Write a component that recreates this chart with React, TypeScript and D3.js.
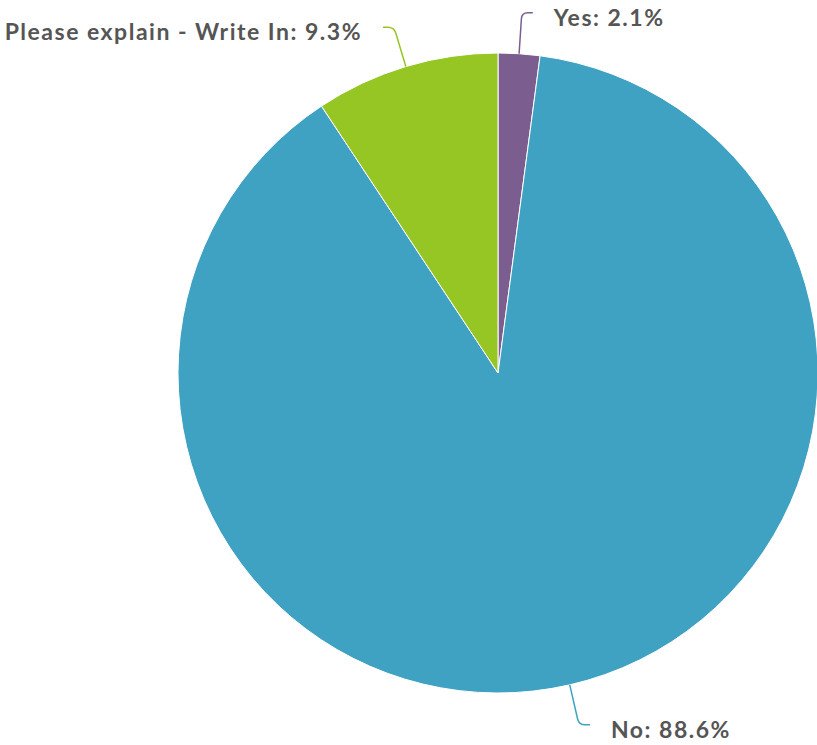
import React from "react";
import * as d3 from "d3";

const categories = ["Yes", "No", "Please explain - Write In"];
const values = [2.1, 88.6, 9.3];
const colors = ["#7b5e8f", "#40a2c2", "#95c624"];

const W = 817, H = 745;
const cx = 498, cy = 373, R = 320;

export default function App() {
  const pie = d3.pie<number>().sort(null).value((d) => d)(values);
  const arc = d3.arc<d3.PieArcDatum<number>>().innerRadius(0).outerRadius(R);
  return (
    <svg width={W} height={H} style={{ position: "absolute", left: 0, top: 0 }}>
      <g transform={`translate(${cx},${cy})`}>
        {pie.map((p, i) => (
          <path key={i} d={arc(p) || ""} fill={colors[i]} stroke="#fff" strokeWidth={1} strokeLinejoin="round" />
        ))}
        {pie.map((p, i) => {
          const a = (p.startAngle + p.endAngle) / 2;
          const s = Math.sin(a), c = -Math.cos(a);
          const x0 = R * s, y0 = R * c;
          const x1 = (R + 41) * s, y1 = (R + 41) * c;
          const dir = s >= 0 ? 1 : -1;
          const x2 = x1 + dir * 11;
          const rad = 6;
          const len = Math.hypot(x1 - x0, y1 - y0);
          const bx = x1 - ((x1 - x0) / len) * rad, by = y1 - ((y1 - y0) / len) * rad;
          const path = `M${x0},${y0}L${bx},${by}Q${x1},${y1} ${x1 + dir * rad},${y1}L${x2},${y1}`;
          const tx = x2 + dir * 21;
          return (
            <g key={"l" + i}>
              <path d={path} fill="none" stroke={colors[i]} strokeWidth={1.5} />
              <text
                x={tx}
                y={y1 + 5}
                dy="0.35em"
                textAnchor={dir > 0 ? "start" : "end"}
                fontFamily="Lato"
                fontWeight={700}
                fontSize={23}
                letterSpacing={1.5}
                fill="#555555"
              >
                {categories[i]}: {values[i].toFixed(1)}%
              </text>
            </g>
          );
        })}
      </g>
    </svg>
  );
}
